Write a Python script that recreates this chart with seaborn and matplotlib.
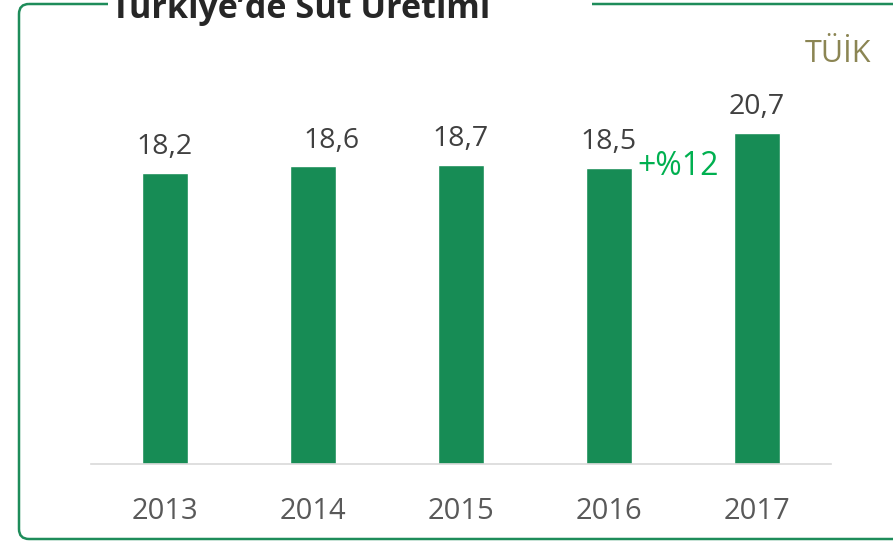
import matplotlib.pyplot as plt
import seaborn as sns
from matplotlib.patches import FancyBboxPatch, Rectangle

# data
years = ["2013", "2014", "2015", "2016", "2017"]
milk = [18.2, 18.6, 18.7, 18.5, 20.7]
labels = ["18,2", "18,6", "18,7", "18,5", "20,7"]

bar_green = "#178c55"
frame_green = "#1e8c5a"

sns.set_style("white")
plt.rcParams["font.family"] = ["Open Sans", "DejaVu Sans"]

fig = plt.figure(figsize=(8.93, 5.41), dpi=100)

# background axes in pixel units for the frame and the loose texts
bg = fig.add_axes([0, 0, 1, 1], zorder=-1)
bg.set_xlim(0, 893)
bg.set_ylim(541, 0)
bg.axis("off")
bg.add_patch(FancyBboxPatch((19, 4), 900, 535, boxstyle="round,pad=0,rounding_size=10",
                            fill=False, edgecolor=frame_green, linewidth=1.8))
bg.add_patch(Rectangle((108, -2), 484, 12, facecolor="white", edgecolor="none"))
bg.text(111, 18, "Türkiye’de Süt Üretimi", fontsize=24.6, fontweight="bold",
        color="#262626", ha="left", va="baseline")
bg.text(871, 62, "TÜİK", fontsize=22, color="#8b8553", ha="right", va="baseline")

ax = fig.add_axes([91 / 893, 77 / 541, 740 / 893, 352 / 541])
ax.set_facecolor("none")
sns.barplot(x=years, y=milk, color=bar_green, saturation=1, width=0.31, ax=ax)
ax.set_xlim(-0.5, 4.5)
ax.set_ylim(0, 22)

for i, (v, lab) in enumerate(zip(milk, labels)):
    dx = 13.5 if i == 1 else 0
    ax.annotate(lab, (i, v), xytext=(dx, 13.5), textcoords="offset points",
                ha="center", va="baseline", fontsize=20.5, color="#404040")

ax.text(3.466, 18.06, "+%12", fontsize=23, color="#00b050", ha="center", va="baseline")

ax.set(xlabel=None, ylabel=None)
ax.set_yticks([])
for s in ["top", "left", "right"]:
    ax.spines[s].set_visible(False)
ax.spines["bottom"].set_color("#d9d9d9")
ax.spines["bottom"].set_linewidth(1.2)
ax.tick_params(axis="x", length=0, pad=24, labelsize=21, labelcolor="#595959")

fig.savefig("out.png", dpi=100)
